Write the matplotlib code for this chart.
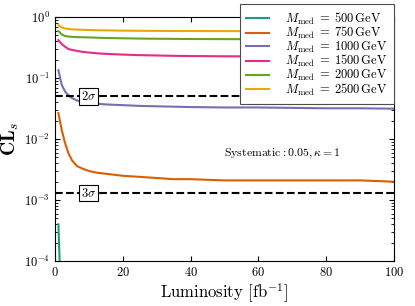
import matplotlib
matplotlib.use('Agg')
import matplotlib.pyplot as plt
import numpy as np

plt.rcParams['font.family'] = 'serif'
plt.rcParams['font.serif'] = ['cmr10']
plt.rcParams['mathtext.fontset'] = 'cm'
plt.rcParams['axes.formatter.use_mathtext'] = True

# luminosity points
lumi = [1, 2, 3, 4, 5, 6.5, 8, 10, 12.5, 15, 20, 25, 30, 35, 40, 50, 60, 70, 80, 90, 100]

cls_750 = [0.0267, 0.014, 0.0085, 0.0058, 0.0045, 0.0036, 0.0033, 0.0030, 0.0028, 0.0027,
           0.0025, 0.0024, 0.0023, 0.0022, 0.0022, 0.0021, 0.0021, 0.0021, 0.0021, 0.0021, 0.0020]
cls_1000 = [0.135, 0.077, 0.060, 0.052, 0.047, 0.043, 0.041, 0.039, 0.038, 0.037,
            0.036, 0.035, 0.0345, 0.034, 0.0335, 0.033, 0.033, 0.0325, 0.032, 0.032, 0.0315]
cls_1500 = [0.42, 0.36, 0.326, 0.30, 0.29, 0.28, 0.27, 0.263, 0.255, 0.25,
            0.243, 0.238, 0.235, 0.232, 0.23, 0.228, 0.227, 0.226, 0.225, 0.225, 0.224]
cls_2000 = [0.59, 0.52, 0.49, 0.48, 0.475, 0.47, 0.468, 0.465, 0.46, 0.455,
            0.45, 0.445, 0.442, 0.44, 0.438, 0.436, 0.434, 0.433, 0.432, 0.431, 0.43]
cls_2500 = [0.74, 0.68, 0.65, 0.64, 0.63, 0.625, 0.62, 0.615, 0.61, 0.607,
            0.60, 0.597, 0.595, 0.593, 0.592, 0.59, 0.588, 0.586, 0.585, 0.584, 0.583]
lumi_500 = [1, 2]
cls_500 = [4.0e-4, 1.0e-5]

masses = [500, 750, 1000, 1500, 2000, 2500]
colors = ['#1b9e77', '#d95f02', '#7570b3', '#e7298a', '#66a61e', '#e6ab02']

sig2 = 0.05
sig3 = 0.0013

fig, ax = plt.subplots(figsize=(4.15, 3.06), dpi=100)
fig.subplots_adjust(left=0.1325, right=0.949, top=0.944, bottom=0.147)

series = [(lumi_500, cls_500), (lumi, cls_750), (lumi, cls_1000),
          (lumi, cls_1500), (lumi, cls_2000), (lumi, cls_2500)]
for (x, y), m, c in zip(series, masses, colors):
    ax.plot(x, y, '-', color=c, lw=1.5, label=r'$M_{\rm med}\;=\;%d\,{\rm GeV}$' % m)

ax.axhline(sig2, color='k', ls='--', lw=1.5)
ax.axhline(sig3, color='k', ls='--', lw=1.5)
box = dict(boxstyle='square,pad=0.15', fc='white', ec='k', lw=0.8)
ax.text(10, sig2, r'$2\sigma$', ha='center', va='center', fontsize=9, bbox=box)
ax.text(10, sig3, r'$3\sigma$', ha='center', va='center', fontsize=9, bbox=box)

ax.text(67, 0.0059, r'$\mathrm{Systematic:0.05},\kappa=1$', ha='center', va='center', fontsize=8.5)

ax.set_yscale('log')
ax.set_ylim(1e-4, 1)
ax.set_xlim(0, 100)
ax.set_xticks([0, 20, 40, 60, 80, 100])
ax.tick_params(which='both', direction='in', top=True, right=True, labelsize=9)
ax.set_xlabel(r'Luminosity [fb$^{-1}$]', fontsize=12, labelpad=2)
ax.set_ylabel(r'$\mathbf{CL}_s$', fontsize=14, labelpad=2)

leg = ax.legend(loc='upper right', bbox_to_anchor=(1.0, 1.053), fontsize=9,
                fancybox=False, framealpha=1, edgecolor='0.3', handlelength=1.8,
                handletextpad=1.3, labelspacing=-0.12, borderpad=0.5, borderaxespad=0)
leg.get_frame().set_linewidth(0.8)

plt.savefig('out.png', dpi=100)
